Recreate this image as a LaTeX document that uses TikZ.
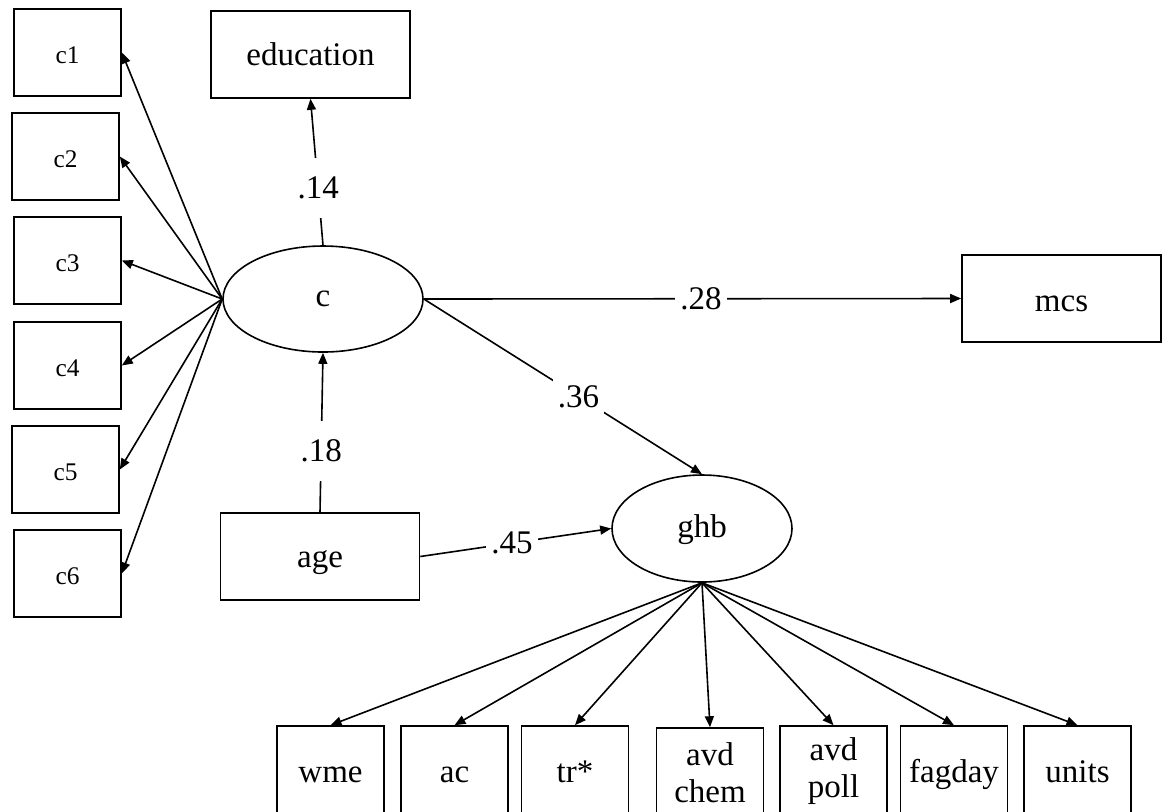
\documentclass[tikz,border=0pt]{standalone}
\usepackage{fontspec}
\setmainfont{Liberation Serif}
\usetikzlibrary{arrows.meta,shapes.geometric}
\begin{document}
\begin{tikzpicture}[x=0.5pt,y=-0.5pt,
  every node/.style={font=\fontsize{16.5}{18.5}\selectfont},
  % baseline drop below the node centre equals half the text height
  tb/.style={text height=#1, text depth=0pt},
  box/.style={draw, line width=0.8pt, rectangle, inner sep=0pt,
    minimum width=53.5pt, minimum height=43.5pt},
  smallbox/.style={box, tb=10.5pt, font=\fontsize{12.7}{14}\selectfont},
  widebox/.style={box, minimum width=99.5pt},
  obsbox/.style={box, minimum height=45pt, align=center},
  latent/.style={draw, line width=0.8pt, ellipse, inner sep=0pt},
  link/.style={line width=0.8pt, -{Triangle[length=5.5pt,width=4.5pt]}},
  lbl/.style={fill=white, inner xsep=2.5pt, inner ysep=0pt, minimum height=30pt}]

\useasboundingbox (0,0) rectangle (1167,811);
\clip (0,0) rectangle (1167,811);

% latent factors
\node[latent, tb=7pt, minimum width=100pt, minimum height=53pt] (c) at (323,299) {c};
\node[latent, tb=8.5pt, minimum width=90pt, minimum height=53.5pt] (ghb) at (702,528.5) {ghb};

% indicators of c
\node[smallbox] (c1) at (67.5,52.5) {c1};
\node[smallbox] (c2) at (65.5,156.5) {c2};
\node[smallbox] (c3) at (67.5,260.5) {c3};
\node[smallbox] (c4) at (67.5,365.5) {c4};
\node[smallbox] (c5) at (65.5,469.5) {c5};
\node[smallbox] (c6) at (67.5,573.5) {c6};

% other observed variables
\node[widebox, tb=10.5pt] (education) at (310.5,54.5) {education};
\node[widebox, tb=13pt] (mcs) at (1061.5,298.5) {mcs};
\node[widebox, tb=10.5pt] (age) at (320,556.5) {age};

% indicators of ghb
\node[obsbox, tb=11pt] (wme) at (330.5,771) {wme};
\node[obsbox, tb=11pt] (ac) at (454.5,771) {ac};
\node[obsbox, tb=11.5pt] (tr) at (575,771) {tr*};
\node[obsbox] (chem) at (710,773) {avd\\chem};
\node[obsbox] (poll) at (833.5,771) {avd\\poll};
\node[obsbox, tb=11pt] (fagday) at (954,771) {fagday};
\node[obsbox, tb=11pt] (units) at (1077.5,771) {units};

% loadings of c
\foreach \t in {c1,c2,c3,c4,c5,c6}
  \draw[link] (c.west) -- (\t.east);

% loadings of ghb
\foreach \t in {wme,ac,tr,chem,poll,fagday,units}
  \draw[link] (ghb.south) -- (\t.north);

% structural paths
\draw[link] (c.north) -- node[lbl, pos=0.39] {.14} (education.south);
\draw[link] (age.north) -- node[lbl, pos=0.385] {.18} (c.south);
\draw[link] (c.east) -- node[lbl, pos=0.516] {.28} (mcs.west);
\draw[link] (c.east) -- node[lbl, pos=0.556] {.36} (ghb.north);
\draw[link] (age.east) -- node[lbl, pos=0.48] {.45} (ghb.west);
\end{tikzpicture}
\end{document}
